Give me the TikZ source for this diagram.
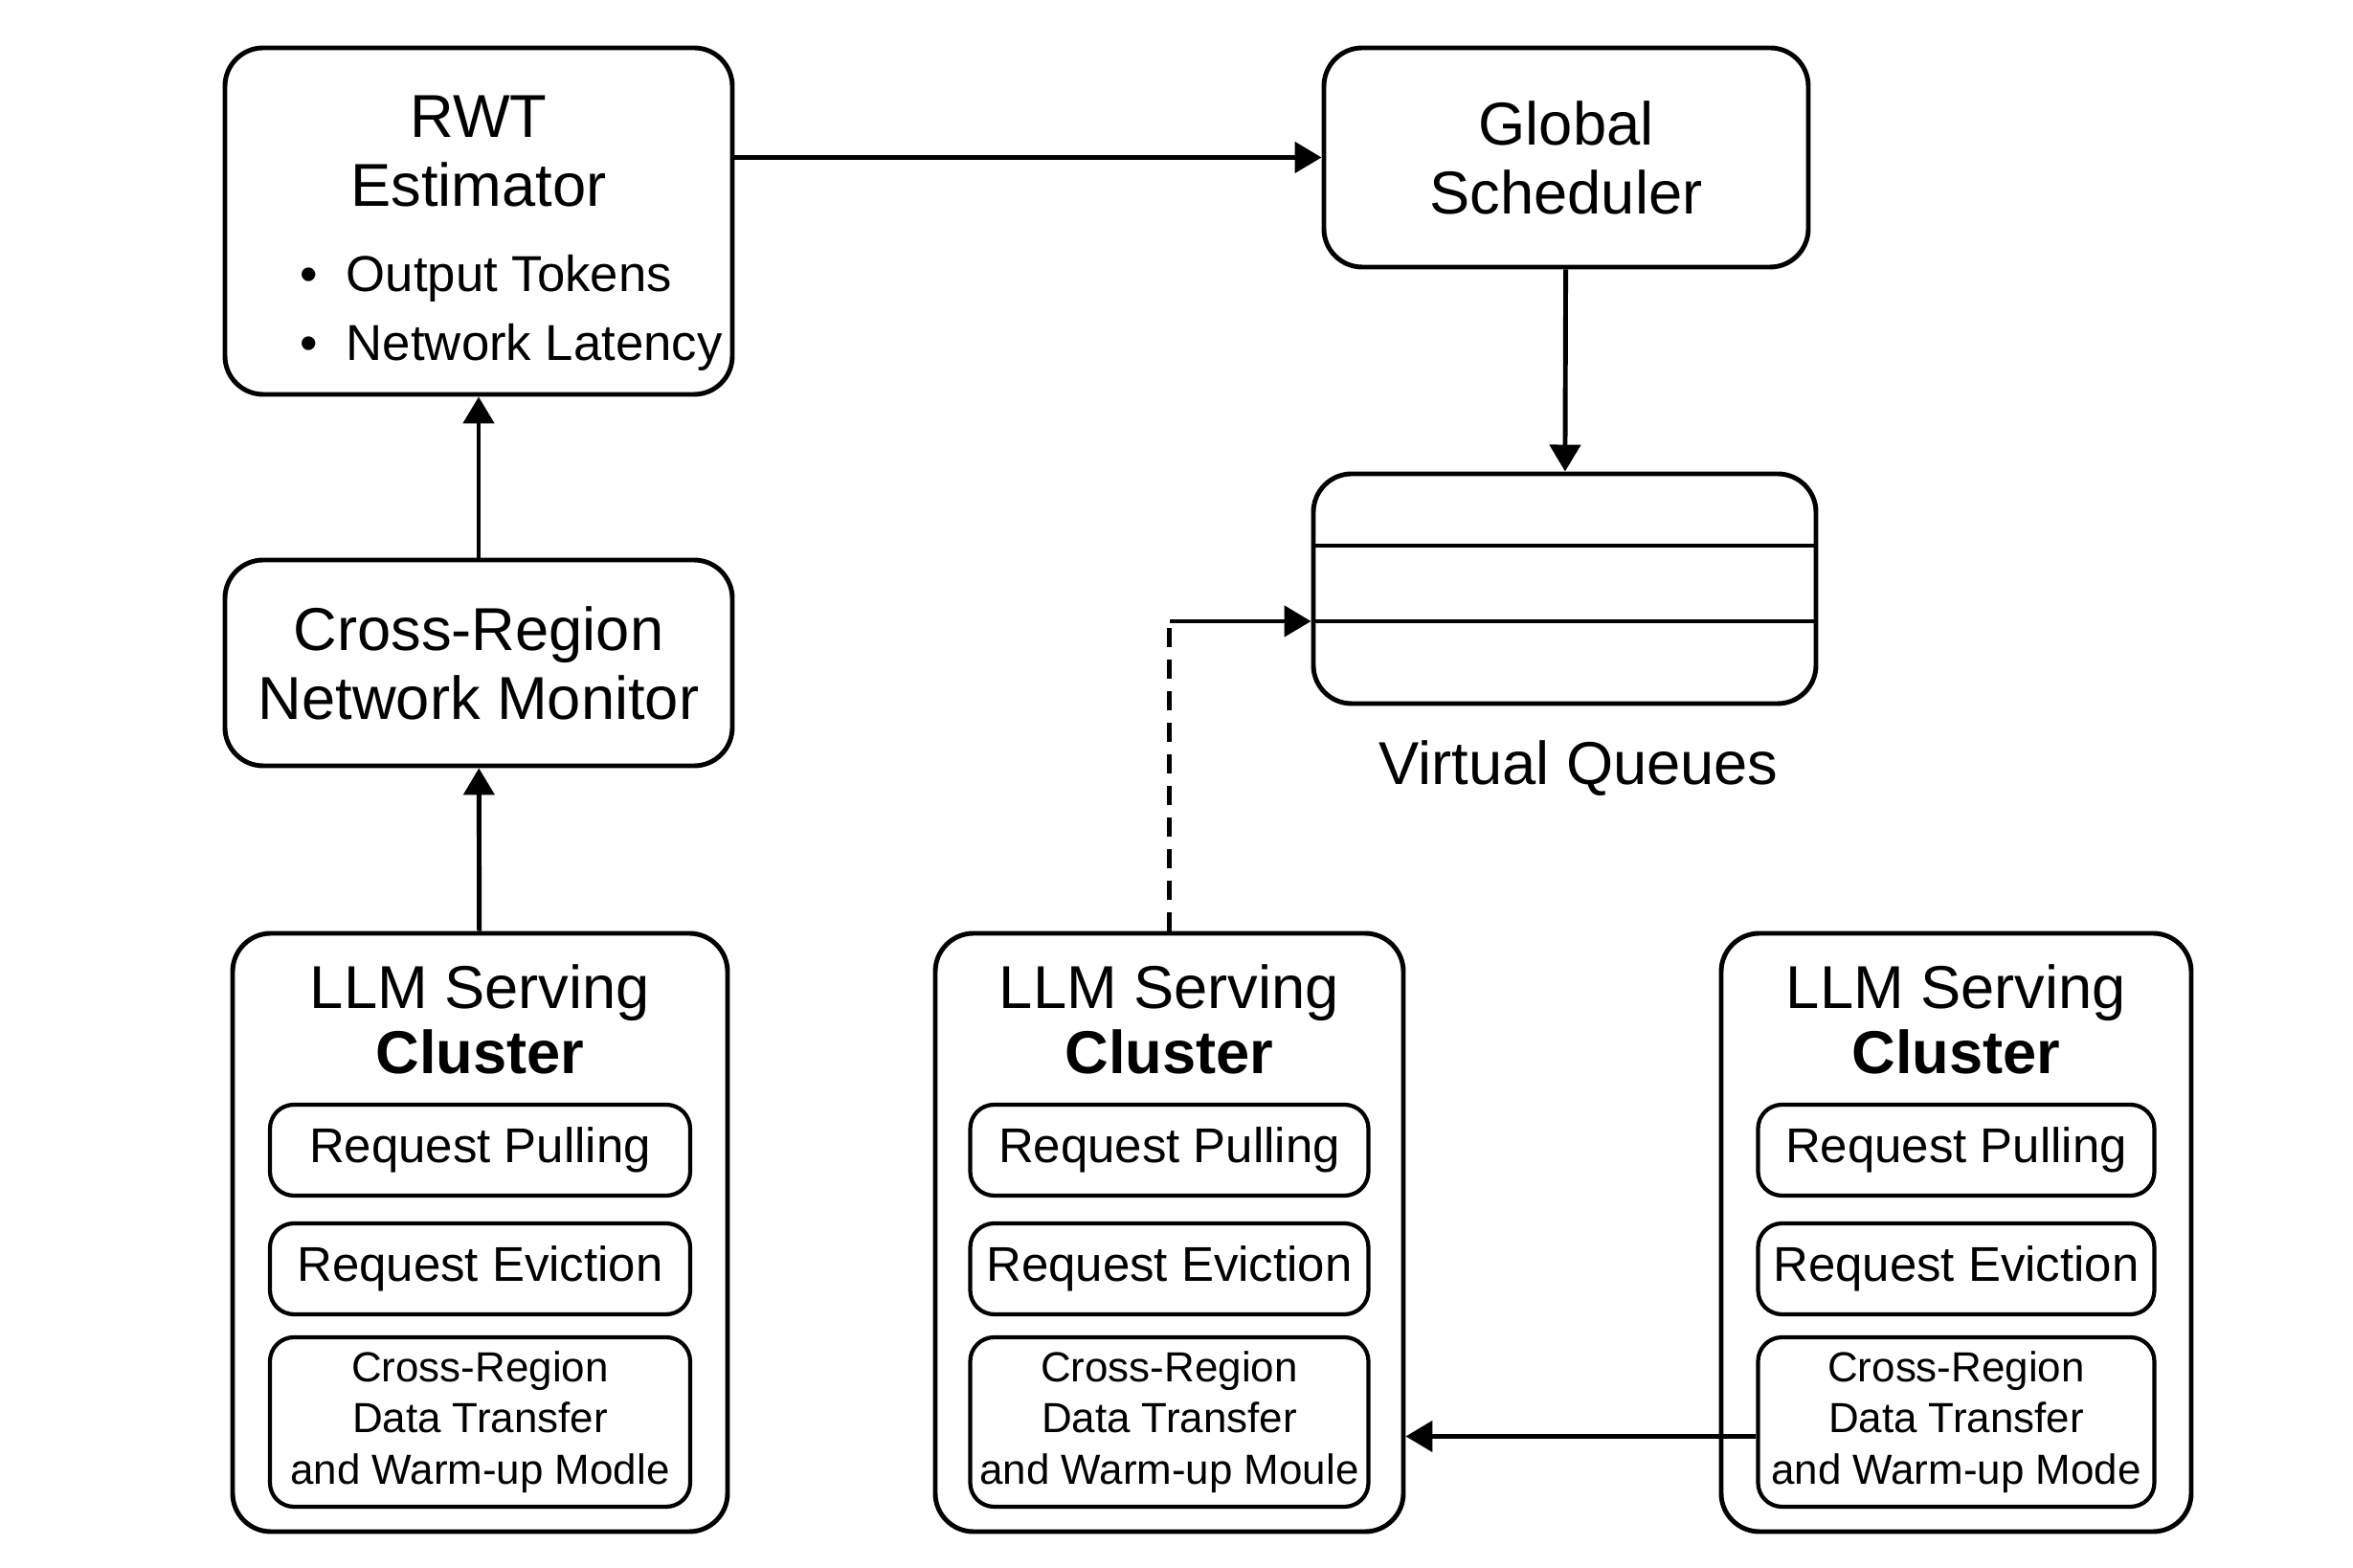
\documentclass[tikz,border=0pt]{standalone}
\usepackage{fontspec}
\setmainfont{Liberation Sans}
\usetikzlibrary{arrows.meta}

\begin{document}
\begin{tikzpicture}[line width = 1.4pt, >={Triangle[length = 0.28cm, width = 0.32cm]}]
      \tikzstyle{every node} = [inner sep = 0pt];
      \tikzstyle{box} = [draw, rounded corners = 0.4cm, align = center];
      \tikzstyle{subbox} = [draw, rounded corners = 0.25cm, align = center, line width = 1.2pt];
      \tikzstyle{big} = [font = \fontsize{18}{20.5}\selectfont];
      \useasboundingbox (0,0) rectangle (24.58,-16.38);
      % top row
      \node(rwt) [box, minimum width = 5.30cm, minimum height = 3.62cm] at (5.00,-2.31) {};
      \node(rwttitle) [big, align = center] at (5.00,-1.58) {RWT\\Estimator};
      \node(rwtlist) [anchor = west, align = left, font = \fontsize{15}{20.5}\selectfont] at (3.11,-3.27)
      {\textbullet\hspace{0.3cm}Output Tokens\\\textbullet\hspace{0.3cm}Network Latency};
      \node(gs) [box, big, minimum width = 5.06cm, minimum height = 2.29cm] at (16.36,-1.645) {Global\\Scheduler};
      % queues
      \node(vq) [box, minimum width = 5.25cm, minimum height = 2.40cm] at (16.345,-6.15) {};
      \coordinate (lane1) at ([yshift = 0.45cm]vq.west);
      \coordinate (lane2) at ([yshift = -0.34cm]vq.west);
      \draw (lane1) -- (lane1 -| vq.east);
      \draw (lane2) -- (lane2 -| vq.east);
      \node(vqlabel) [big] at (16.49,-8.03) {Virtual Queues};
      \node(mon) [box, big, minimum width = 5.30cm, minimum height = 2.15cm] at (5.00,-6.925) {Cross-Region\\Network Monitor};
      % clusters
      \foreach \x/\n/\w/\sw/\word in {5.015/1/5.17/4.39/Modle, 12.215/2/4.89/4.16/Moule, 20.435/3/4.91/4.14/Mode}{
        \node(cl\n) [box, minimum width = \w cm, minimum height = 6.25cm] at (\x,-12.875) {};
        \node(cltitle\n) [align = center, font = \fontsize{18}{19.3}\selectfont] at (\x,-10.65) {LLM Serving\\\textbf{Cluster}};
        \node(pull\n) [subbox, minimum width = \sw cm, minimum height = 0.95cm, font = \fontsize{14.5}{17}\selectfont] at (\x,-12.015) {Request Pulling};
        \node(evict\n) [subbox, minimum width = \sw cm, minimum height = 0.95cm, font = \fontsize{14.5}{17}\selectfont] at (\x,-13.255) {Request Eviction};
        \node(xfer\n) [subbox, minimum width = \sw cm, minimum height = 1.77cm, font = \fontsize{12.5}{15.2}\selectfont] at (\x,-14.855) {Cross-Region\\Data Transfer\\and Warm-up \word};
      }
      \coordinate (bend) at (cl2.north |- lane2);
      \path[->]
      (rwt.east |- gs.west) edge (gs.west)
      (gs) edge (vq)
      (mon) edge (rwt)
      (cl1) edge (mon)
      (bend) edge (lane2)
      ([yshift = -0.15cm]xfer3.west) edge ([yshift = -0.15cm]xfer3.west -| cl2.east);
      \draw[dash pattern = on 0.2cm off 0.13cm] (cl2.north) -- (bend);
    \end{tikzpicture}
\end{document}
